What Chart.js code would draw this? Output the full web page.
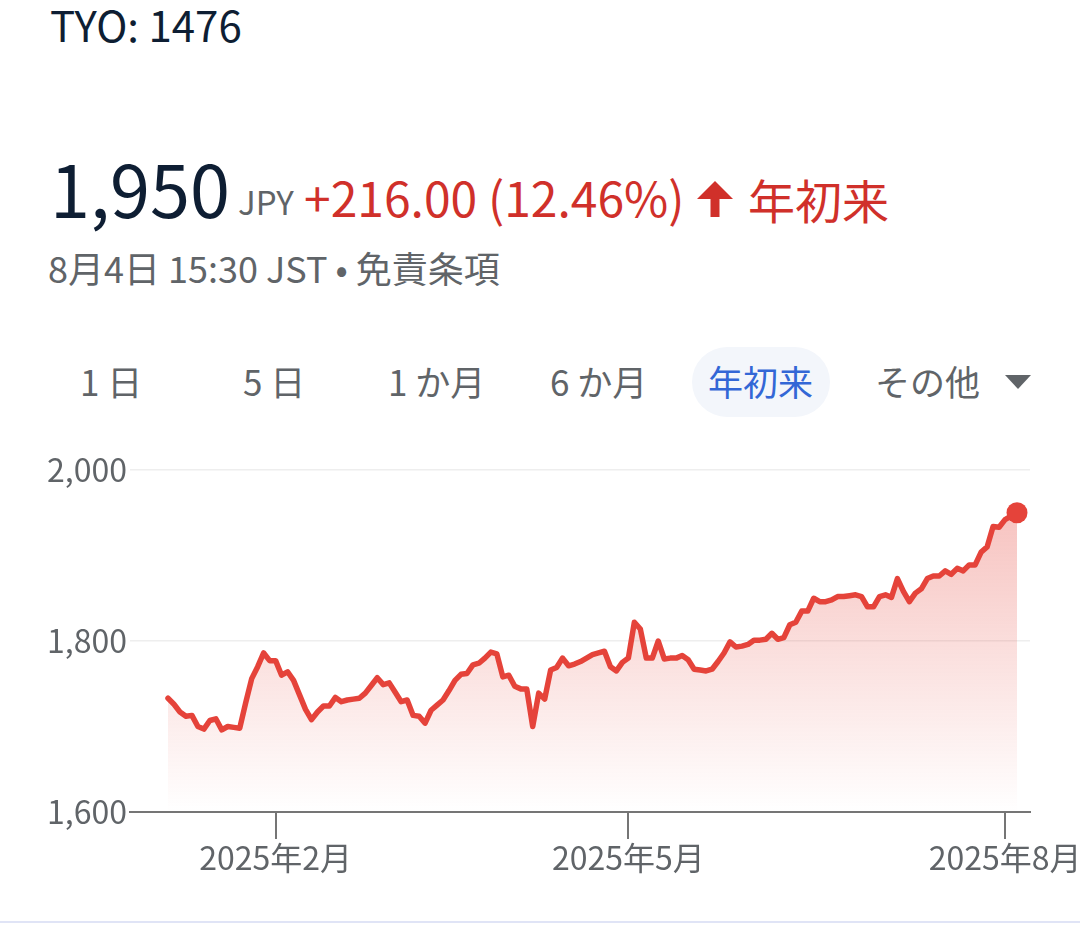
<!DOCTYPE html>
<html lang="ja">
<head>
<meta charset="UTF-8">
<title>TYO: 1476</title>
<script src="https://cdn.jsdelivr.net/npm/chart.js"></script>
<style>
  body {
    margin: 0;
    width: 1080px;
    height: 947px;
    background: #fff;
    font-family: 'Noto Sans CJK JP', 'Noto Sans', sans-serif;
    position: relative;
    overflow: hidden;
  }
  .t { position: absolute; white-space: nowrap; line-height: 1; }
  .navy { color: #0e1e33; }
  .gray { color: #606468; }
  .red { color: #d0302a; }
  .pill {
    position: absolute; left: 692px; top: 347px; width: 138px; height: 70px;
    border-radius: 35px; background: #f3f6fb;
  }
  .tri {
    position: absolute; left: 1005px; top: 375px; width: 0; height: 0;
    border-left: 13px solid transparent; border-right: 13px solid transparent;
    border-top: 14px solid #606468;
  }
  .rule { position: absolute; left: 0; top: 921px; width: 1080px; height: 2px; background: #e0e4f6; }
  .chart-box { position: absolute; left: 0; top: 440px; width: 1080px; height: 460px; }
</style>
</head>
<body>
  <div class="t navy" style="left:50px; top:3px; font-size:42px;">TYO: 1476</div>

  <div class="t navy" style="left:50px; top:151px; font-size:72px;">1,950</div>
  <div class="t gray" style="left:238px; top:185px; font-size:33px;">JPY</div>
  <div class="t red" style="left:304px; top:172px; font-size:48px;">+216.00 (12.46%)</div>
  <svg style="position:absolute; left:696px; top:180px;" width="38" height="38" viewBox="0 0 38 38">
    <polygon fill="#d0302a" points="19,1 1,19 14.5,19 14.5,37 23.5,37 23.5,19 37,19"/>
  </svg>
  <div class="t red" style="left:748px; top:175px; font-size:47px;">年初来</div>

  <div class="t gray" style="left:48px; top:249px; font-size:36px;">8月4日 15:30 JST • 免責条項</div>

  <div class="pill"></div>
  <div class="t gray" style="left:80px; top:363px; font-size:35px;">1 日</div>
  <div class="t gray" style="left:243px; top:363px; font-size:35px;">5 日</div>
  <div class="t gray" style="left:388px; top:363px; font-size:35px;">1 か月</div>
  <div class="t gray" style="left:550px; top:363px; font-size:35px;">6 か月</div>
  <div class="t" style="left:708px; top:363px; font-size:35px; color:#3367d6;">年初来</div>
  <div class="t gray" style="left:875px; top:363px; font-size:35px;">その他</div>
  <div class="tri"></div>

  <div class="chart-box"><canvas id="chart"></canvas></div>
  <div class="rule"></div>

<script>
  // trading days (2025), one close per day
  const dates = [
    '01/06','01/07','01/08','01/09','01/10','01/14','01/15','01/16','01/17','01/20',
    '01/21','01/22','01/23','01/24','01/27','01/28','01/29','01/30','01/31',
    '02/03','02/04','02/05','02/06','02/07','02/10','02/12','02/13','02/14','02/17',
    '02/18','02/19','02/20','02/21','02/25','02/26','02/27','02/28',
    '03/03','03/04','03/05','03/06','03/07','03/10','03/11','03/12','03/13','03/14',
    '03/17','03/18','03/19','03/21','03/24','03/25','03/26','03/27','03/28','03/31',
    '04/01','04/02','04/03','04/04','04/07','04/08','04/09','04/10','04/11','04/14',
    '04/15','04/16','04/17','04/18','04/21','04/22','04/23','04/24','04/25','04/28','04/30',
    '05/01','05/02','05/07','05/08','05/09','05/12','05/13','05/14','05/15','05/16',
    '05/19','05/20','05/21','05/22','05/23','05/26','05/27','05/28','05/29','05/30',
    '06/02','06/03','06/04','06/05','06/06','06/09','06/10','06/11','06/12','06/13',
    '06/16','06/17','06/18','06/19','06/20','06/23','06/24','06/25','06/26','06/27','06/30',
    '07/01','07/02','07/03','07/04','07/07','07/08','07/09','07/10','07/11','07/14',
    '07/15','07/16','07/17','07/18','07/22','07/23','07/24','07/25','07/28','07/29',
    '07/30','07/31','08/01','08/04'
  ];

  const prices = [
    1733,1726,1717,1712,1713,1700,1697,1707,1709,1696,
    1700,1699,1698,1728,1756,1770,1786,1777,1777,
    1760,1764,1754,1737,1720,1708,1717,1724,1724,1734,
    1729,1731,1732,1733,1739,1748,1757,1749,
    1751,1740,1729,1731,1713,1712,1704,1719,1725,1731,
    1742,1754,1761,1762,1772,1774,1780,1787,1785,1758,
    1760,1747,1744,1744,1700,1739,1732,1766,1769,1780,
    1771,1773,1776,1780,1784,1786,1788,1770,1765,1775,1780,
    1822,1814,1780,1780,1800,1779,1780,1780,1783,1778,
    1767,1766,1765,1767,1776,1786,1799,1793,1794,1796,
    1801,1801,1802,1809,1802,1804,1819,1822,1835,1835,
    1850,1846,1846,1848,1852,1852,1853,1854,1852,1840,1840,
    1852,1854,1851,1873,1858,1846,1856,1861,1873,1876,
    1876,1882,1878,1885,1882,1889,1889,1904,1910,1934,
    1933,1942,1946,1950
  ];

  const yTicks = [1600, 1800, 2000];
  const tickMonths = ['02', '05', '08'];
  const tickLabels = ['2025年2月', '2025年5月', '2025年8月'];

  const lineColor = '#e5433a';
  const fontFamily = "'Noto Sans CJK JP', 'Noto Sans', sans-serif";

  // month tick sits on the last session of the previous month
  const monthTickPos = tickMonths.map(m => dates.findIndex(d => d.startsWith(m + '/')) - 1);
  const points = prices.map((v, i) => ({ x: i, y: v }));
  const last = prices.length - 1;

  new Chart(document.getElementById('chart'), {
    type: 'line',
    data: {
      datasets: [{
        data: points,
        borderColor: lineColor,
        borderWidth: 5.5,
        borderJoinStyle: 'round',
        borderCapStyle: 'round',
        tension: 0,
        fill: 'start',
        backgroundColor: ctx => {
          const area = ctx.chart.chartArea;
          if (!area) return 'rgba(229,67,57,0.15)';
          const g = ctx.chart.ctx.createLinearGradient(0, area.top, 0, area.bottom);
          g.addColorStop(0, 'rgba(229,67,57,0.36)');
          g.addColorStop(1, 'rgba(229,67,57,0.0)');
          return g;
        },
        pointRadius: ctx => ctx.dataIndex === last ? 10.5 : 0,
        pointHoverRadius: 0,
        pointBorderWidth: 0,
        pointBackgroundColor: lineColor
      }]
    },
    options: {
      responsive: true,
      maintainAspectRatio: false,
      animation: false,
      events: [],
      layout: { padding: { left: 40, right: 50, top: 30, bottom: 0 } },
      plugins: { legend: { display: false }, tooltip: { enabled: false } },
      scales: {
        x: {
          type: 'linear',
          min: -6.356,
          max: 144.174,
          afterBuildTicks: s => { s.ticks = monthTickPos.map(v => ({ value: v })); },
          afterFit: s => { s.height = 88; s.paddingLeft = 0; s.paddingRight = 0; },
          grid: { drawOnChartArea: false, drawTicks: true, tickLength: 27, color: '#757575', lineWidth: 2 },
          border: { display: true, color: '#757575', width: 2 },
          ticks: {
            autoSkip: false,
            maxRotation: 0,
            padding: 0,
            color: '#606468',
            font: { size: 32, family: fontFamily },
            callback: (v, i) => tickLabels[i]
          }
        },
        y: {
          min: 1600,
          max: 2000,
          afterBuildTicks: s => { s.ticks = yTicks.map(v => ({ value: v })); },
          afterFit: s => { s.width = 90; s.paddingTop = 0; s.paddingBottom = 0; },
          grid: {
            drawTicks: false,
            color: ctx => ctx.tick && ctx.tick.value === 1600 ? 'rgba(0,0,0,0)' : '#eeeeee',
            lineWidth: 1.5
          },
          border: { display: false },
          ticks: {
            padding: 3,
            color: '#606468',
            font: { size: 32, family: fontFamily },
            callback: v => v.toLocaleString('en-US')
          }
        }
      }
    }
  });
</script>
</body>
</html>
